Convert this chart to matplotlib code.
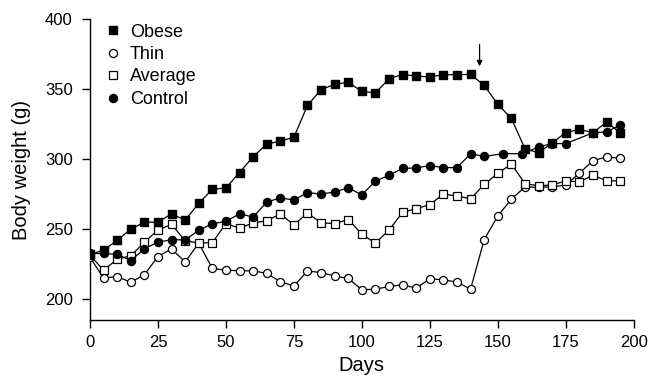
import matplotlib
matplotlib.use("Agg")
import matplotlib.pyplot as plt
from matplotlib.lines import Line2D

plt.rcParams['font.family'] = ['Liberation Sans', 'DejaVu Sans']

days = list(range(0, 200, 5))

obese = [232, 235, 242, 250, 255, 255, 261, 256.5, 268.5, 278.5,
         279.5, 290.5, 301.8, 310.8, 313, 315.7, 338.5, 349.8, 353.6, 355.1,
         348.5, 347.5, 357.6, 360.6, 359.5, 358.8, 360.5, 360.5, 360.7, 352.8,
         339.3, 329.2, 307.5, 304.6, 311.7, 319.1, 321.3, 319.1, 326.5, 319.1]

thin = [229.8, 215, 216.1, 212.1, 217.4, 230.4, 235.9, 226.5, 240, 221.9,
        220.7, 220.2, 220.2, 218.4, 212.4, 209.4, 220, 219, 216.4, 214.8,
        206.6, 207.1, 209, 210.2, 207.8, 214.5, 213.8, 212.1, 207.1, 242.6,
        259.4, 271.5, 280.2, 280, 280.2, 281.6, 290, 299, 301.7, 300.7]

average = [231.5, 220.5, 228.6, 230.9, 240.6, 249.4, 253.4, 241.8, 240, 240.4,
           253.9, 250.8, 254.4, 256, 260.9, 253, 261.6, 254.5, 254, 256.9,
           246.4, 240, 249.4, 262, 264.6, 267.6, 275, 273.8, 271.7, 282,
           290, 296.5, 282.6, 281, 281.6, 284.5, 283.8, 288.6, 284.5, 284.6]

control_days = list(range(0, 150, 5)) + [152, 159, 165, 170, 175, 185, 190, 195]
control = [232.6, 232.6, 232, 227.5, 235.9, 240.8, 242.4, 242.4, 249.1, 253.9,
           255.5, 261, 258.6, 269.3, 272.4, 270.8, 276.2, 275, 276.7, 279.5,
           274.6, 284.3, 288.6, 293.4, 293.8, 295.5, 294, 294, 304, 302,
           304, 304, 308.8, 311.2, 311.2, 318.9, 319.6, 324.4]

x_ticks = [0, 25, 50, 75, 100, 125, 150, 175, 200]
y_ticks = [200, 250, 300, 350, 400]
arrow_day = 143.3

fig = plt.figure(figsize=(6.52, 3.81), dpi=100)
ax = fig.add_axes([0.138, 0.160, 0.834, 0.789])

lw = 0.9
ms_s = 5.4
ms_o = 5.8
ax.plot(days, thin, '-o', color='black', mfc='white', mec='black', mew=0.9, ms=ms_o, lw=lw, zorder=3)
ax.plot(days, average, '-s', color='black', mfc='white', mec='black', mew=0.9, ms=ms_s, lw=lw, zorder=3)
ax.plot(control_days, control, '-o', color='black', mfc='black', mec='black', ms=ms_o, lw=lw, zorder=4)
ax.plot(days, obese, '-s', color='black', mfc='black', mec='black', ms=ms_s, lw=lw, zorder=4)

ax.annotate('', xy=(arrow_day, 366.5), xytext=(arrow_day, 382),
            arrowprops=dict(arrowstyle='-|>', color='black', lw=0.9,
                            mutation_scale=8, shrinkA=0, shrinkB=0))

ax.set_xlim(0, 200)
ax.set_ylim(185, 400)
ax.set_xticks(x_ticks)
ax.set_yticks(y_ticks)
ax.spines['top'].set_visible(False)
ax.spines['right'].set_visible(False)
for s in ('left', 'bottom'):
    ax.spines[s].set_linewidth(1.0)
ax.tick_params(direction='out', length=5.5, width=1.0, labelsize=12)
ax.tick_params(axis='x', pad=5.5)
ax.tick_params(axis='y', pad=7)
ax.set_xlabel('Days', fontsize=14.5, labelpad=4)
ax.set_ylabel('Body weight (g)', fontsize=14.5, labelpad=10)

handles = [
    Line2D([], [], ls='none', marker='s', mfc='black', mec='black', ms=ms_s),
    Line2D([], [], ls='none', marker='o', mfc='white', mec='black', mew=0.9, ms=ms_o),
    Line2D([], [], ls='none', marker='s', mfc='white', mec='black', mew=0.9, ms=ms_s),
    Line2D([], [], ls='none', marker='o', mfc='black', mec='black', ms=ms_o),
]
ax.legend(handles, ['Obese', 'Thin', 'Average', 'Control'], loc='upper left',
          bbox_to_anchor=(0.0, 1.04), frameon=False, fontsize=13,
          handlelength=0.8, handletextpad=0.5, labelspacing=0.3, borderaxespad=0.5)

fig.savefig('out.png', dpi=100)
